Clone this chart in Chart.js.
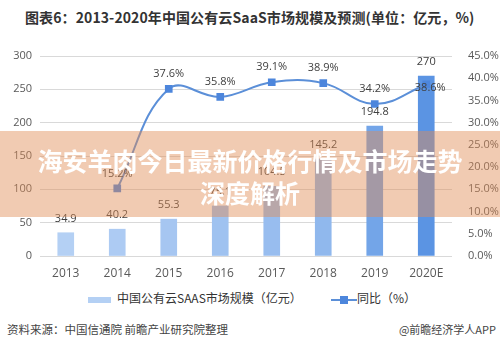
<!DOCTYPE html>
<html>
<head>
<meta charset="utf-8">
<script src="https://cdn.jsdelivr.net/npm/chart.js@4"></script>
<style>
  html, body { margin: 0; padding: 0; background: #fff; }
  #wrap { position: relative; width: 500px; height: 350px; overflow: hidden; font-family: "Noto Sans CJK SC", "Noto Sans", sans-serif; }
  #title { position: absolute; left: 25px; top: 7px; font-size: 14px; font-weight: bold; color: #333; white-space: nowrap; letter-spacing: 0.1px; }
  #chartBox { position: absolute; left: 0; top: 35px; width: 500px; height: 251px; }
  #legend { position: absolute; top: 288px; left: 0; width: 500px; height: 20px; font-size: 12px; color: #333; }
  .lg { position: absolute; top: 0; white-space: nowrap; line-height: 20px; }
  #source { position: absolute; left: 7px; top: 321px; font-size: 11.5px; color: #444; white-space: nowrap; }
  #app { position: absolute; right: 4px; top: 321px; font-size: 11px; color: #444; white-space: nowrap; }
  #banner { position: absolute; left: 0; top: 131px; width: 500px; height: 86px; background: rgba(225, 140, 85, 0.45); }
  #banner div { color: #fff; font-weight: bold; font-size: 25px; text-align: center; line-height: 32px; }
</style>
</head>
<body>
<div id="wrap">
  <div id="title">图表6：2013-2020年中国公有云SaaS市场规模及预测(单位：亿元，%)</div>
  <div id="chartBox"><canvas id="saasChart" width="500" height="251"></canvas></div>
  <div id="legend">
    <div class="lg" style="left:88px;"><span style="display:inline-block;width:23px;height:6px;background:#b4d0f4;vertical-align:middle;margin-right:6px;"></span>中国公有云SAAS市场规模（亿元）</div>
    <div class="lg" style="left:331px;"><span style="display:inline-block;position:relative;width:26px;height:20px;vertical-align:middle;"><span style="position:absolute;left:0;top:9px;width:26px;height:2px;background:#5b8fd8;"></span><span style="position:absolute;left:9px;top:6px;width:8px;height:8px;background:#4d86dc;"></span></span>同比（%）</div>
  </div>
  <div id="source">资料来源：中国信通院 前瞻产业研究院整理</div>
  <div id="app">@前瞻经济学人APP</div>
  <div id="banner">
    <div style="margin-top:13px;">海安羊肉今日最新价格行情及市场走势</div>
    <div>深度解析</div>
  </div>
</div>
<script>
// Data
const years = ['2013', '2014', '2015', '2016', '2017', '2018', '2019', '2020E'];
const marketSize = [34.9, 40.2, 55.3, 75.1, 104.5, 145.2, 194.8, 270];
const yoyGrowth = [null, 15.2, 37.6, 35.8, 39.1, 38.9, 34.2, 38.6];
const barColors = ['#b4d0f4', '#adcbf3', '#a6c6f1', '#9fc2f0', '#98bdef', '#90b8ed', '#73a5e8', '#5b94e3'];

const labelFont = '11px "Open Sans", "Noto Sans", sans-serif';

// Value labels above bars and points
const valueLabels = {
    id: 'valueLabels',
    afterDatasetsDraw(chart) {
        const ctx = chart.ctx;
        ctx.save();
        ctx.font = labelFont;
        ctx.fillStyle = '#404040';
        ctx.textAlign = 'center';
        ctx.textBaseline = 'middle';

        const barMeta = chart.getDatasetMeta(0);
        barMeta.data.forEach((bar, i) => {
            ctx.fillText(String(marketSize[i]), bar.x, bar.y - 14);
        });

        const lineMeta = chart.getDatasetMeta(1);
        lineMeta.data.forEach((pt, i) => {
            if (yoyGrowth[i] === null) return;
            let dx = 0, dy = -15;
            if (i === years.length - 1) { dx = 4; dy = 3; }
            ctx.fillText(yoyGrowth[i].toFixed(1) + '%', pt.x + dx, pt.y + dy);
        });
        ctx.restore();
    }
};

const ctx = document.getElementById('saasChart').getContext('2d');
new Chart(ctx, {
    type: 'bar',
    data: {
        labels: years,
        datasets: [{
            label: '中国公有云SAAS市场规模（亿元）',
            data: marketSize,
            backgroundColor: barColors,
            barThickness: 16,
            yAxisID: 'y',
            order: 2
        }, {
            type: 'line',
            label: '同比（%）',
            data: yoyGrowth,
            borderColor: '#5b8fd8',
            borderWidth: 2,
            pointStyle: 'rect',
            pointRadius: 4,
            pointBackgroundColor: '#4d86dc',
            pointBorderColor: '#4d86dc',
            tension: 0.4,
            spanGaps: true,
            yAxisID: 'y1',
            order: 1
        }]
    },
    options: {
        responsive: false,
        animation: false,
        layout: { padding: { top: 21, bottom: 0 } },
        plugins: {
            legend: { display: false },
            tooltip: { enabled: false }
        },
        scales: {
            x: {
                grid: { display: false },
                border: { display: false },
                ticks: { color: '#595959', font: { size: 12, family: '"Open Sans", "Noto Sans", sans-serif' }, padding: 2, maxRotation: 0 },
                afterFit: (scale) => { scale.height = 30; }
            },
            y: {
                position: 'left',
                min: 0,
                max: 300,
                ticks: { stepSize: 50, color: '#595959', font: { size: 11, family: '"Open Sans", "Noto Sans", sans-serif' }, padding: 8 },
                grid: { color: '#d9d9d9', drawTicks: false },
                border: { display: false },
                afterFit: (scale) => { scale.width = 40; }
            },
            y1: {
                position: 'right',
                min: 0,
                max: 45,
                ticks: {
                    stepSize: 5,
                    color: '#595959',
                    font: { size: 11, family: '"Open Sans", "Noto Sans", sans-serif' },
                    padding: 8,
                    callback: (v) => v.toFixed(1) + '%'
                },
                grid: { display: false },
                border: { display: false },
                afterFit: (scale) => { scale.width = 48; }
            }
        }
    },
    plugins: [valueLabels]
});
</script>
</body>
</html>
